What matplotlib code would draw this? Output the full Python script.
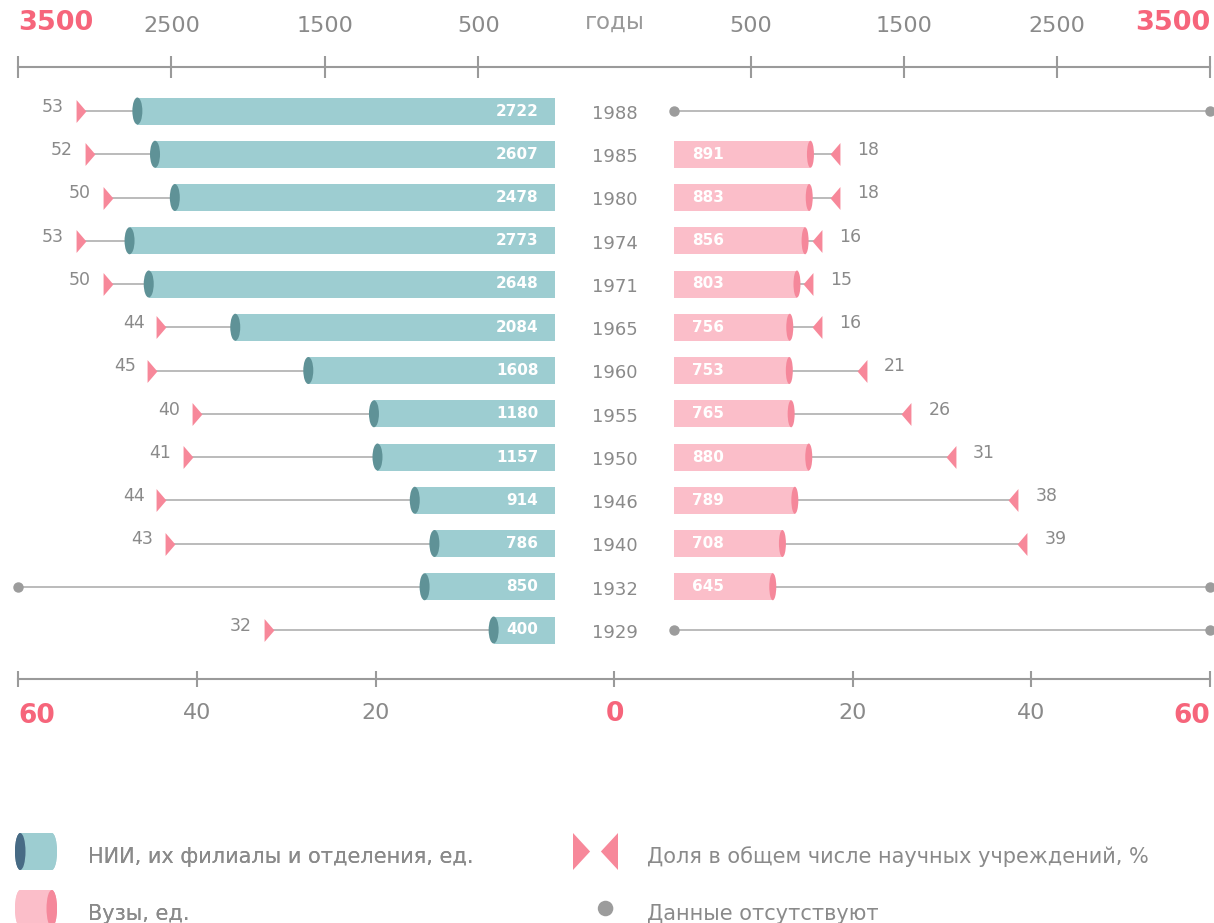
import numpy as np
import matplotlib
matplotlib.use('Agg')
import matplotlib.pyplot as plt
import matplotlib.transforms as mtransforms
from matplotlib.patches import Ellipse, Rectangle, Polygon, Patch
from matplotlib.legend_handler import HandlerBase
from matplotlib.path import Path

# data
years = [1988, 1985, 1980, 1974, 1971, 1965, 1960, 1955, 1950, 1946, 1940, 1932, 1929]
nii_count = [2722, 2607, 2478, 2773, 2648, 2084, 1608, 1180, 1157, 914, 786, 850, 400]
nii_share = [53, 52, 50, 53, 50, 44, 45, 40, 41, 44, 43, None, 32]
vuz_count = [None, 891, 883, 856, 803, 756, 753, 765, 880, 789, 708, 645, None]
vuz_share = [None, 18, 18, 16, 15, 16, 21, 26, 31, 38, 39, None, None]

count_max = 3500
share_max = 60
count_ticks_left = [3500, 2500, 1500, 500]
count_ticks_right = [500, 1500, 2500, 3500]
share_ticks_left = [60, 40, 20]
share_ticks_right = [20, 40, 60]

legend_labels = ['НИИ, их филиалы и отделения, ед.', 'Вузы, ед.',
                 'Доля в общем числе научных учреждений, %', 'Данные отсутствуют']

# colours
TEAL = '#9dcdd1'
TEAL_CAP = '#5f9297'
TEAL_CAP_LEG = '#476b85'
PINK = '#fbbec9'
PINK_CAP = '#f5889b'
TRI = '#f7889a'
PINK_TXT = '#f6657b'
GRAY = '#8a8a8a'
AXIS = '#9a9a9a'
LINE = '#a8a8a8'
DOT = '#9c9c9c'

plt.rcParams['font.family'] = ['DejaVu Sans']

W, H = 1214, 923
fig = plt.figure(figsize=(W / 100, H / 100), dpi=100)

top_y, bot_y = 67, 679
ax_h = (bot_y - top_y) / H
ax_y0 = 1 - bot_y / H
bg_box = [18 / W, ax_y0, (1210 - 18) / W, ax_h]
left_box = [18 / W, ax_y0, (555 - 18) / W, ax_h]
right_box = [674 / W, ax_y0, (1210 - 674) / W, ax_h]

ax_bg = fig.add_axes(bg_box)
ax_l = fig.add_axes(left_box)
ax_r = fig.add_axes(right_box)

rows = np.arange(len(years))
row_px = 43.25
ylim = (len(years) - 1 + (bot_y - 630) / row_px, -(111 - top_y) / row_px)
bar_h = 27 / row_px
px_per_count = (555 - 18) / count_max


def to_share(c):
    return np.asarray(c) * share_max / count_max


def to_count(s):
    return np.asarray(s) * count_max / share_max


# background axis: the two long axis lines, centre tick and "годы"
ax_bg.set_xlim(0, 1)
ax_bg.set_ylim(ylim)
ax_bg.patch.set_visible(False)
for s in ['left', 'right']:
    ax_bg.spines[s].set_visible(False)
for s in ['top', 'bottom']:
    ax_bg.spines[s].set_color(AXIS)
    ax_bg.spines[s].set_linewidth(1.5)
ax_bg.set_yticks([])
mid_fig = (left_box[0] + left_box[2] + right_box[0]) / 2
mid_ax = (mid_fig - bg_box[0]) / bg_box[2]
ax_bg.set_xticks([mid_ax], labels=['0'])
ax_bg.tick_params(axis='x', direction='inout', length=12, width=1.5, color=AXIS,
                  labelsize=19, labelcolor=PINK_TXT, pad=10)
ax_bg.get_xticklabels()[0].set_fontweight('bold')
ax_bg.annotate('годы', (mid_ax, 1), xycoords='axes fraction', xytext=(0, 27.5),
               textcoords='offset points', ha='center', va='baseline',
               fontsize=16.5, color='#999999')

for ax in (ax_l, ax_r):
    ax.set_ylim(ylim)
    ax.patch.set_visible(False)
    for s in ax.spines.values():
        s.set_visible(False)
    ax.set_yticks([])
    ax.xaxis.tick_top()
    ax.tick_params(axis='x', direction='inout', length=16, width=1.5, color=AXIS,
                   labelsize=16, labelcolor=GRAY, pad=14)

ax_l.set_xlim(count_max, 0)
ax_r.set_xlim(0, count_max)
ax_l.set_xticks(count_ticks_left, labels=[str(t) for t in count_ticks_left])
ax_r.set_xticks(count_ticks_right, labels=[str(t) for t in count_ticks_right])
lab = ax_l.get_xticklabels()[0]
lab.set(color=PINK_TXT, fontsize=19.5, fontweight='bold', ha='left')
lab = ax_r.get_xticklabels()[-1]
lab.set(color=PINK_TXT, fontsize=19.5, fontweight='bold', ha='right')

sec_l = ax_l.secondary_xaxis('bottom', functions=(to_share, to_count))
sec_r = ax_r.secondary_xaxis('bottom', functions=(to_share, to_count))
for sec, ticks in ((sec_l, share_ticks_left), (sec_r, share_ticks_right)):
    sec.spines['bottom'].set_visible(False)
    sec.set_ticks(ticks, labels=[str(t) for t in ticks])
    sec.tick_params(axis='x', direction='inout', length=12, width=1.5, color=AXIS,
                    labelsize=16, labelcolor=GRAY, pad=11)
lab = sec_l.get_xticklabels()[0]
lab.set(color=PINK_TXT, fontsize=19, fontweight='bold', ha='left')
lab = sec_r.get_xticklabels()[-1]
lab.set(color=PINK_TXT, fontsize=19, fontweight='bold', ha='right')

# left: НИИ
cap_l = 10 / px_per_count
ax_l.barh(rows, nii_count, height=bar_h, color=TEAL, zorder=3)
for i, (c, p) in enumerate(zip(nii_count, nii_share)):
    ax_l.add_patch(Ellipse((c, i), cap_l, bar_h, facecolor=TEAL_CAP, edgecolor='none', zorder=4))
    ax_l.annotate(str(c), (0, i), xytext=(-12, 0), textcoords='offset points',
                  ha='right', va='center', fontsize=11, fontweight='bold', color='white', zorder=5)
    if p is None:
        ax_l.plot([c, count_max], [i, i], color=LINE, lw=1.1, zorder=2)
        ax_l.plot([count_max], [i], 'o', color=DOT, ms=6.5, zorder=5, clip_on=False)
    else:
        ax_l.plot([c, to_count(p)], [i, i], color=LINE, lw=1.1, zorder=2)
        ax_l.plot([to_count(p)], [i], marker=Path([(-0.43, -1), (0.43, 0), (-0.43, 1), (-0.43, -1)]),
                  ms=16.5, color=TRI, mec='none', zorder=5, clip_on=False)
        ax_l.annotate(str(p), (to_count(p), i), xytext=(-12, 3), textcoords='offset points',
                      ha='right', va='center', fontsize=12.5, color=GRAY)

# right: Вузы
cap_r = 7 / px_per_count
for i, (c, p) in enumerate(zip(vuz_count, vuz_share)):
    if c is None:
        ax_r.plot([0, count_max], [i, i], color=LINE, lw=1.1, zorder=2)
        ax_r.plot([0, count_max], [i, i], 'o', color=DOT, ms=6.5, zorder=5, clip_on=False)
        continue
    ax_r.barh(i, c, height=bar_h, color=PINK, zorder=3)
    ax_r.add_patch(Ellipse((c, i), cap_r, bar_h, facecolor=PINK_CAP, edgecolor='none', zorder=4))
    ax_r.annotate(str(c), (0, i), xytext=(13, 0), textcoords='offset points',
                  ha='left', va='center', fontsize=11, fontweight='bold', color='white', zorder=5)
    if p is None:
        ax_r.plot([c, count_max], [i, i], color=LINE, lw=1.1, zorder=2)
        ax_r.plot([count_max], [i], 'o', color=DOT, ms=6.5, zorder=5, clip_on=False)
    else:
        ax_r.plot([c, to_count(p)], [i, i], color=LINE, lw=1.1, zorder=2)
        ax_r.plot([to_count(p)], [i], marker=Path([(0.43, -1), (-0.43, 0), (0.43, 1), (0.43, -1)]),
                  ms=16.5, color=TRI, mec='none', zorder=5, clip_on=False)
        ax_r.annotate(str(p), (to_count(p), i), xytext=(16, 3), textcoords='offset points',
                      ha='left', va='center', fontsize=12.5, color=GRAY)

# years in the middle
yr_tf = mtransforms.blended_transform_factory(fig.transFigure, ax_l.transData)
for i, yr in zip(rows, years):
    ax_l.annotate(str(yr), (mid_fig, i), xycoords=yr_tf, xytext=(0, -2),
                  textcoords='offset points', ha='center', va='center',
                  fontsize=13, color=GRAY, annotation_clip=False)


# legend
ICON_LIFT = 3.6  # icons sit a little above the text line


class CylinderHandler(HandlerBase):
    def __init__(self, body, cap, cap_left):
        super().__init__()
        self.body, self.cap, self.cap_left = body, cap, cap_left

    def create_artists(self, legend, orig_handle, xdescent, ydescent, width, height, fontsize, trans):
        x0, y0 = -xdescent, -ydescent + ICON_LIFT
        cw = width * 0.25
        cy = y0 + height / 2
        back_x = x0 + width - cw / 2 if self.cap_left else x0 + cw / 2
        front_x = x0 + cw / 2 if self.cap_left else x0 + width - cw / 2
        back = Ellipse((back_x, cy), cw, height, facecolor=self.body, edgecolor='none', transform=trans)
        body = Rectangle((x0 + cw / 2, y0), width - cw, height, facecolor=self.body,
                         edgecolor='none', transform=trans)
        front = Ellipse((front_x, cy), cw, height, facecolor=self.cap, edgecolor='none', transform=trans)
        return [back, body, front]


class ShareHandler(HandlerBase):
    def create_artists(self, legend, orig_handle, xdescent, ydescent, width, height, fontsize, trans):
        x0, y0 = -xdescent, -ydescent + ICON_LIFT
        tw = width * 0.38
        a = Polygon([[x0, y0], [x0 + tw, y0 + height / 2], [x0, y0 + height]],
                    closed=True, facecolor=TRI, edgecolor='none', transform=trans)
        b = Polygon([[x0 + width, y0], [x0 + width - tw, y0 + height / 2], [x0 + width, y0 + height]],
                    closed=True, facecolor=TRI, edgecolor='none', transform=trans)
        return [a, b]


class DotHandler(HandlerBase):
    def create_artists(self, legend, orig_handle, xdescent, ydescent, width, height, fontsize, trans):
        x0, y0 = -xdescent, -ydescent + ICON_LIFT
        r = height * 0.21
        c = Ellipse((x0 + width - r * 1.6, y0 + height / 2), 2 * r, 2 * r,
                    facecolor=DOT, edgecolor='none', transform=trans)
        return [c]


fs = 15
fs_px = fs * 100 / 72
icon_h = 37 * 72 / 100
hh = (icon_h / fs - 0.245) / 0.65
h_nii, h_vuz, h_share, h_dot = Patch(), Patch(), Patch(), Patch()
leg_top = 1 - 838 / H
leg1 = fig.legend([h_nii, h_vuz], legend_labels[:2],
                  handler_map={h_nii: CylinderHandler(TEAL, TEAL_CAP_LEG, True),
                               h_vuz: CylinderHandler(PINK, PINK_CAP, False)},
                  loc='upper left', bbox_to_anchor=(15 / W, leg_top), frameon=False,
                  fontsize=fs, handlelength=42 / fs_px, handleheight=hh,
                  handletextpad=31 / fs_px, labelspacing=20 / fs_px,
                  borderpad=0, borderaxespad=0, labelcolor=GRAY)
fig.add_artist(leg1)
fig.legend([h_share, h_dot], legend_labels[2:],
           handler_map={h_share: ShareHandler(), h_dot: DotHandler()},
           loc='upper left', bbox_to_anchor=(573 / W, leg_top), frameon=False,
           fontsize=fs, handlelength=45 / fs_px, handleheight=hh,
           handletextpad=29 / fs_px, labelspacing=20 / fs_px,
           borderpad=0, borderaxespad=0, labelcolor=GRAY)

fig.savefig('out.png', dpi=100)
